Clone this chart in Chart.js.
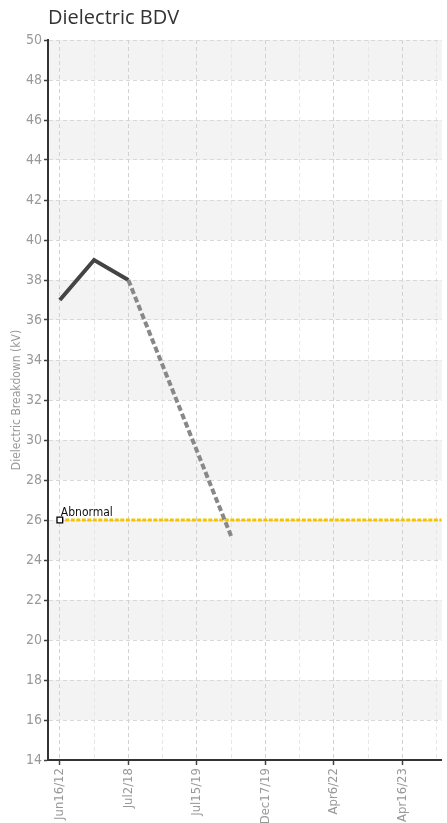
<!DOCTYPE html>
<html>
<head>
<meta charset="utf-8">
<script src="https://cdn.jsdelivr.net/npm/chart.js@4"></script>
<style>
html,body{margin:0;padding:0;background:#fff;}
#wrap{position:relative;width:447px;height:823px;}
</style>
</head>
<body>
<div id="wrap"><canvas id="c"></canvas></div>
<script>
// ---- data ----
const categories = ['Jun16/12', '', 'Jul2/18', '', 'Jul15/19', '', 'Dec17/19', '', 'Apr6/22', '', 'Apr16/23', ''];
const bdvValues = [37, 39, 38, null, null, 25.2, null, null, null, null, null, null];
const abnormalLimit = 26;
const abnormalLabel = 'Abnormal';
const yTicks = [14, 16, 18, 20, 22, 24, 26, 28, 30, 32, 34, 36, 38, 40, 42, 44, 46, 48, 50];
const yMin = 14, yMax = 50;
const xMin = -0.345, xMax = 11.15;

const bdvPoints = bdvValues.map((v, i) => ({x: i, y: v})).filter(p => p.y !== null);
const limitPoints = [{x: 0, y: abnormalLimit}, {x: xMax, y: abnormalLimit}];

const FONT_COND = "'DejaVu Sans Condensed', 'Liberation Sans Narrow', sans-serif";

const bandsPlugin = {
  id: 'bands',
  beforeDraw(chart) {
    const {ctx, chartArea, scales} = chart;
    const y = scales.y;
    ctx.save();
    ctx.fillStyle = '#f3f3f3';
    for (let v = yMin; v < yMax; v += 2) {
      if (v % 4 === 0) {
        const top = y.getPixelForValue(v + 2), bot = y.getPixelForValue(v);
        ctx.fillRect(chartArea.left, top, chartArea.right - chartArea.left, bot - top);
      }
    }
    ctx.restore();
  }
};

const labelPlugin = {
  id: 'limitLabel',
  afterDatasetsDraw(chart) {
    const {ctx, scales} = chart;
    const px = scales.x.getPixelForValue(0), py = scales.y.getPixelForValue(abnormalLimit);
    ctx.save();
    ctx.font = "12px " + FONT_COND;
    ctx.fillStyle = '#111';
    ctx.textAlign = 'left';
    ctx.textBaseline = 'alphabetic';
    ctx.fillText(abnormalLabel, px + 1, py - 4.5);
    ctx.restore();
  }
};

new Chart(document.getElementById('c'), {
  type: 'line',
  data: {
    datasets: [
      {
        label: 'Dielectric BDV',
        data: bdvPoints,
        borderColor: '#444',
        borderWidth: 4,
        borderJoinStyle: 'miter',
        pointRadius: 0,
        tension: 0,
        segment: {
          borderDash: c => c.p0.parsed.x >= 2 ? [6, 3] : undefined,
          borderColor: c => c.p0.parsed.x >= 2 ? '#888' : undefined
        }
      },
      {
        label: abnormalLabel,
        data: limitPoints,
        borderColor: '#f5c400',
        borderWidth: 3,
        borderDash: [4, 1.5],
        tension: 0,
        pointStyle: 'rect',
        pointRadius: c => c.dataIndex === 0 ? 4 : 0,
        pointBackgroundColor: '#fff',
        pointBorderColor: '#000',
        pointBorderWidth: 1.3
      }
    ]
  },
  options: {
    animation: false,
    responsive: true,
    maintainAspectRatio: false,
    layout: {padding: 0},
    plugins: {
      legend: {display: false},
      tooltip: {enabled: false},
      title: {
        display: true,
        text: 'Dielectric BDV',
        align: 'start',
        fullSize: false,
        color: '#333',
        font: {family: "'Open Sans', sans-serif", size: 20, weight: 'normal'},
        padding: {top: 6, bottom: 10}
      }
    },
    scales: {
      x: {
        type: 'linear',
        min: xMin,
        max: xMax,
        afterBuildTicks: s => { s.ticks = categories.map((c, i) => ({value: i})); },
        afterFit: s => { s.height = 63; s.paddingLeft = 0; s.paddingRight = 0; },
        ticks: {
          autoSkip: false,
          minRotation: 90,
          maxRotation: 90,
          padding: 3,
          color: '#999',
          font: {family: FONT_COND, size: 13},
          callback: v => categories[v] !== undefined ? categories[v] : ''
        },
        grid: {
          color: c => (c.index % 2 === 0 ? '#d2d2d2' : '#e6e6e6'),
          tickColor: c => (c.index % 2 === 0 ? '#444' : 'rgba(0,0,0,0)'),
          tickLength: 5,
          tickWidth: 1.5,
          tickBorderDash: []
        },
        border: {color: '#333', width: 2, dash: [4, 3]}
      },
      y: {
        min: yMin,
        max: yMax,
        afterBuildTicks: s => { s.ticks = yTicks.map(v => ({value: v})); },
        afterFit: s => { s.width = 48; s.paddingTop = 0; s.paddingBottom = 0; },
        ticks: {
          color: '#999',
          padding: 2,
          font: {family: FONT_COND, size: 14}
        },
        grid: {
          color: '#d8d8d8',
          tickColor: '#444',
          tickLength: 4,
          tickWidth: 1.5,
          tickBorderDash: []
        },
        border: {color: '#333', width: 2, dash: [4, 3]},
        title: {
          display: true,
          text: 'Dielectric Breakdown (kV)',
          color: '#999',
          font: {family: FONT_COND, size: 12},
          padding: {top: 10, bottom: 0}
        }
      }
    }
  },
  plugins: [bandsPlugin, labelPlugin]
});
</script>
</body>
</html>
